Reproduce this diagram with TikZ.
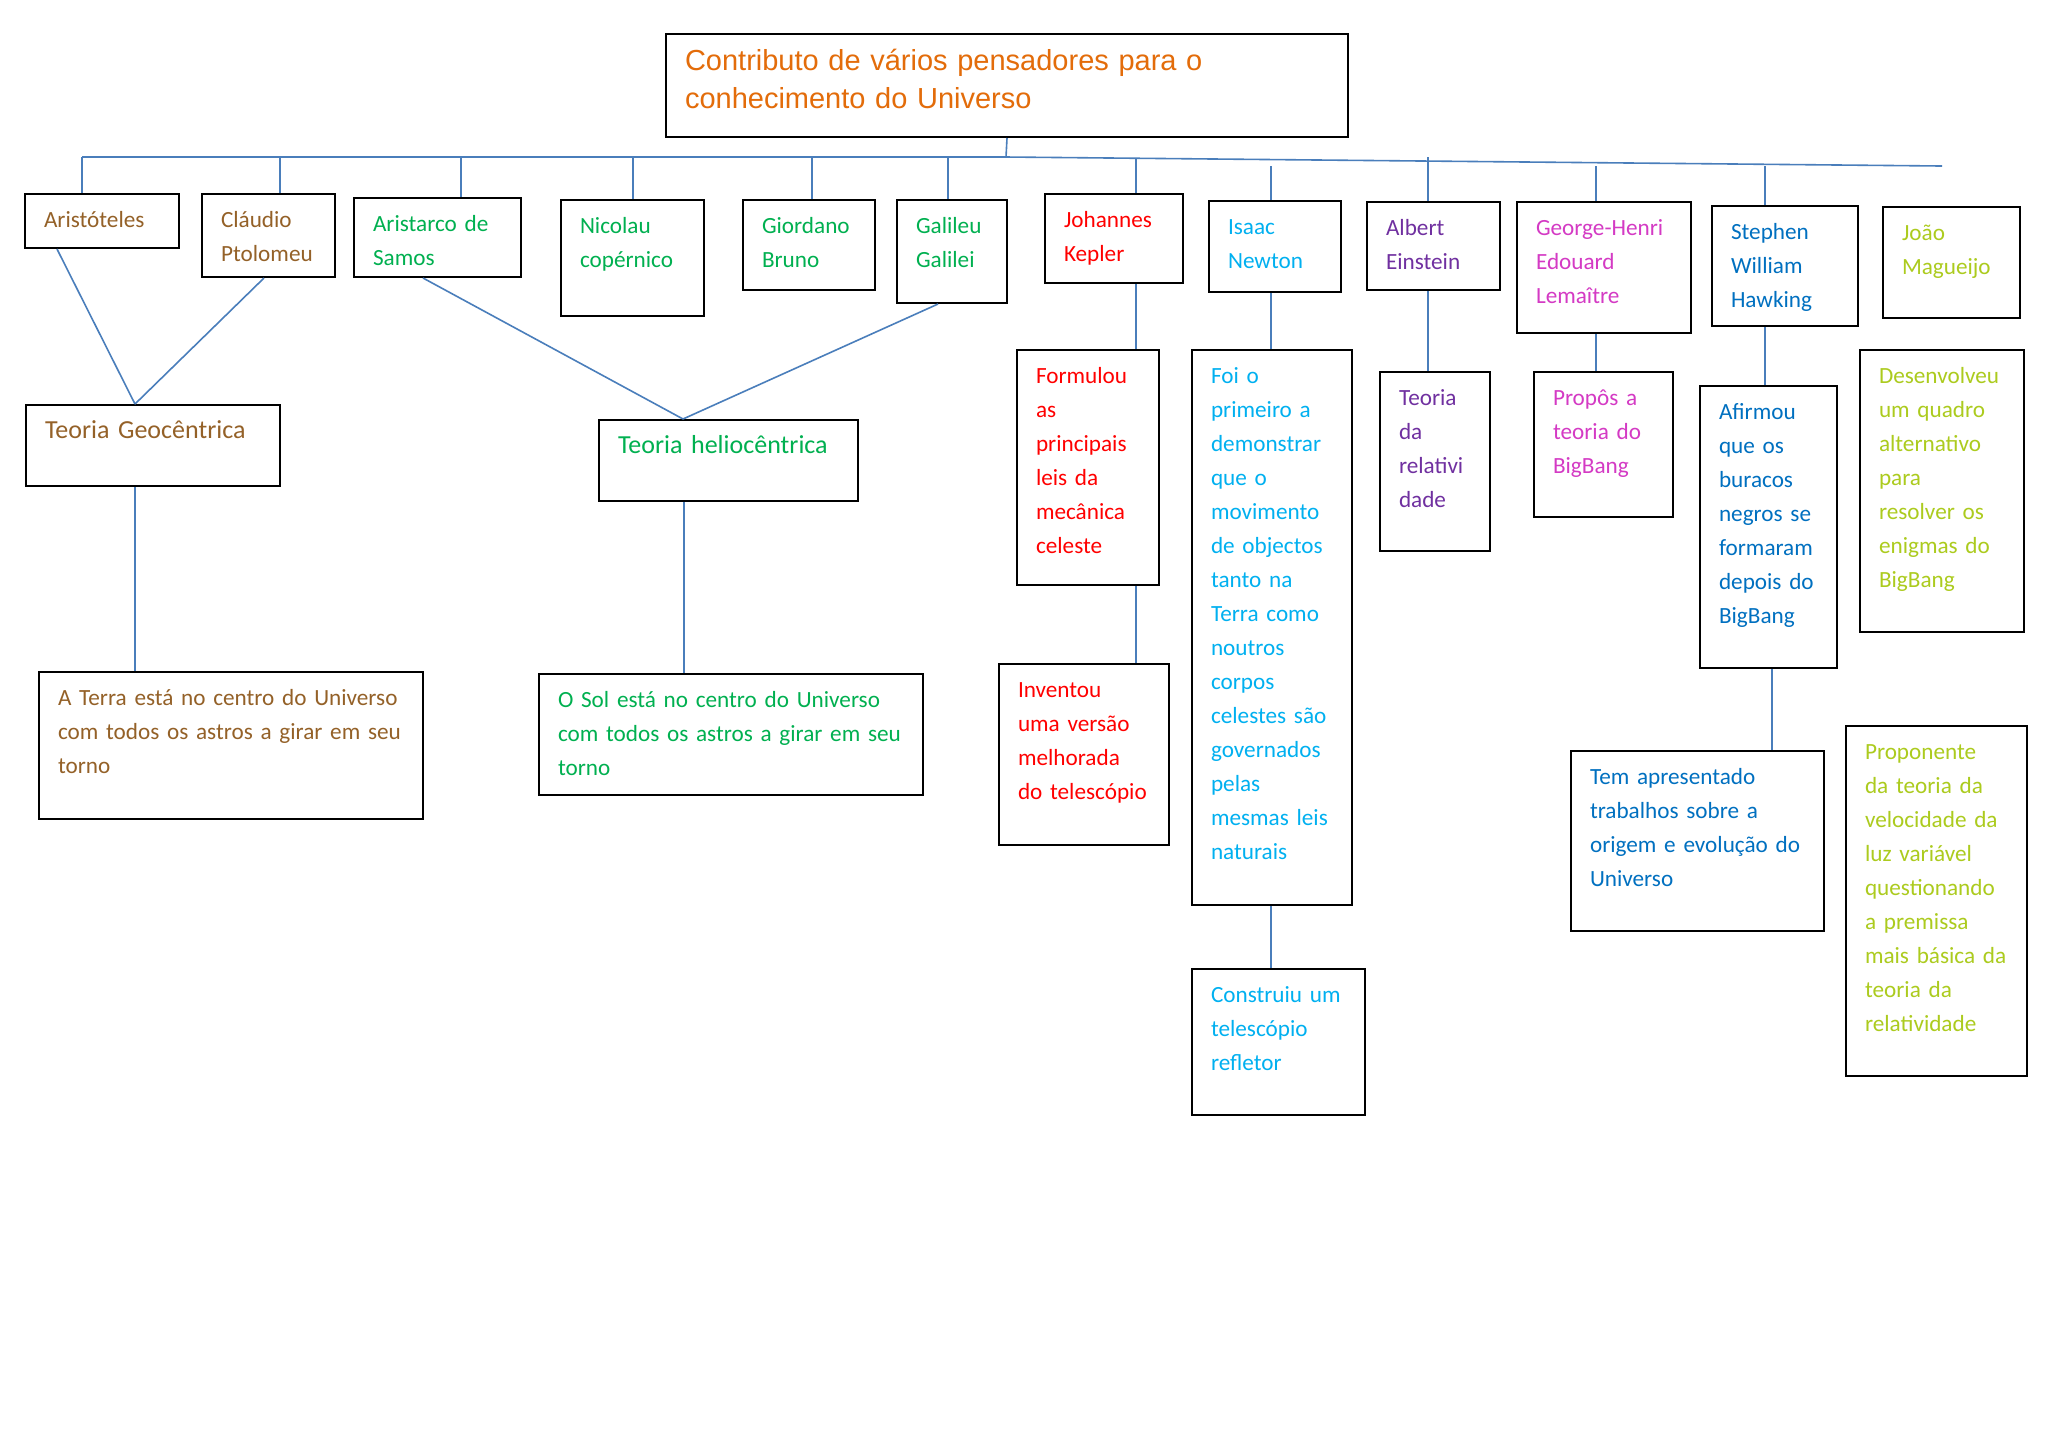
\documentclass[tikz,border=0pt]{standalone}
\usepackage{fontspec}
\setmainfont{Carlito}
\newfontfamily\titulofont{Liberation Sans}
\usetikzlibrary{positioning}
\definecolor{laranja}{HTML}{E36C0A}
\definecolor{castanho}{HTML}{946128}
\definecolor{verde}{HTML}{00B050}
\definecolor{vermelho}{HTML}{FF0000}
\definecolor{ciano}{HTML}{00B0F0}
\definecolor{roxo}{HTML}{7030A0}
\definecolor{magenta}{HTML}{D43AC4}
\definecolor{azul}{HTML}{0070C0}
\definecolor{lima}{HTML}{ACCB1E}
\definecolor{linhaazul}{HTML}{4A7EBB}
\hyphenpenalty=10000
\exhyphenpenalty=10000

\begin{document}
\begin{tikzpicture}[x=0.5pt, y=-0.5pt,
  caixa/.style={draw=black, line width=1pt, anchor=north west, align=left, inner xsep=9.5pt, inner ysep=3pt, text height=13.5pt, font=\fontsize{11.6}{17}\selectfont,
    execute at begin node={\rightskip=0pt plus 1fil minus 100pt\relax}},
  tema/.style={caixa, font=\fontsize{13}{17}\selectfont},
  linha/.style={draw=linhaazul, line width=0.8pt}
]
  \fill[white] (0,0) rectangle (2048,1448);

  % titulo
  \node[caixa, text=laranja, text width=322pt, text height=14.3pt, inner ysep=4pt, text depth=29.2pt, font=\titulofont\fontsize{14.5}{19}\selectfont] (titulo) at (665,33) {Contributo de vários pensadores para o\\conhecimento do Universo};

  % pensadores
  \node[caixa, text=castanho, text width=58pt,   text depth=7.5pt]  (arist)     at (24,193)   {Aristóteles};
  \node[caixa, text=castanho, text width=47.5pt, text depth=22pt]   (claudio)   at (201,193)  {Cláudio\\Ptolomeu};
  \node[caixa, text=verde,    text width=64.5pt, text depth=20pt]   (aristarco) at (353,197)  {Aristarco de\\Samos};
  \node[caixa, text=verde,    text width=52.5pt, text depth=38.5pt] (nicolau)   at (560,199)  {Nicolau\\copérnico};
  \node[caixa, text=verde,    text width=47pt,   text depth=25.5pt] (giordano)  at (742,199)  {Giordano\\Bruno};
  \node[caixa, text=verde,    text width=36pt,   text depth=32pt]   (galileu)   at (896,199)  {Galileu\\Galilei};
  \node[caixa, text=vermelho, text width=50pt,   text depth=25pt]   (kepler)    at (1044,193) {Johannes\\Kepler};
  \node[caixa, text=ciano,    text width=47pt,   text depth=26pt]   (newton)    at (1208,200) {Isaac\\Newton};
  \node[caixa, text=roxo,     text width=47.5pt, text depth=24.5pt] (einstein)  at (1366,201) {Albert\\Einstein};
  \node[caixa, text=magenta,  text width=68pt,   text depth=46pt]   (lemaitre)  at (1516,201) {George-Henri\\Edouard\\Lemaître};
  \node[caixa, text=azul,     text width=54pt,   text depth=40.5pt] (hawking)   at (1711,205) {Stephen\\William\\Hawking};
  \node[caixa, text=lima,     text width=49.5pt, text depth=36pt]   (magueijo)  at (1882,206) {João\\Magueijo};

  % teorias e contributos
  \node[tema,  text=castanho, text width=108pt,   text depth=21pt]   (geo)    at (25,404)  {Teoria Geocêntrica};
  \node[caixa, text=castanho, text width=173pt,   text depth=54pt]   (aterra) at (38,671)  {A Terra está no centro do Universo\\com todos os astros a girar em seu\\torno};
  \node[tema,  text=verde,    text width=110.5pt, text depth=21pt]   (helio)  at (598,419) {Teoria heliocêntrica};
  \node[caixa, text=verde,    text width=173pt,   text depth=41pt]   (osol)   at (538,673) {O Sol está no centro do Universo\\com todos os astros a girar em seu\\torno};
  \node[caixa, text=vermelho, text width=52pt,    text depth=98pt]   (formulou) at (1016,349) {Formulou\\as\\principais\\leis da\\mecânica\\celeste};
  \node[caixa, text=vermelho, text width=66pt,    text depth=71pt]   (inventou) at (998,663)  {Inventou\\uma versão\\melhorada\\do telescópio};
  \node[caixa, text=ciano,    text width=61pt,    text depth=258pt]  (foio)     at (1191,349) {Foi o\\primeiro a\\demonstrar\\que o\\movimento\\de objectos\\tanto na\\Terra como\\noutros\\corpos\\celestes são\\governados\\pelas\\mesmas leis\\naturais};
  \node[caixa, text=ciano,    text width=67.5pt,  text depth=53.5pt] (construiu) at (1191,968) {Construiu um\\telescópio\\refletor};
  \node[caixa, text=roxo,     text width=36pt,    text depth=70pt]   (relat)   at (1379,371) {Teoria\\da\\relativi\\dade};
  \node[caixa, text=magenta,  text width=50.5pt,  text depth=53pt]   (propos)  at (1533,371) {Propôs a\\teoria do\\BigBang};
  \node[caixa, text=azul,     text width=49.5pt,  text depth=121.5pt] (afirmou) at (1699,385) {Afirmou\\que os\\buracos\\negros se\\formaram\\depois do\\BigBang};
  \node[caixa, text=azul,     text width=107.5pt, text depth=70.5pt] (tem)     at (1570,750) {Tem apresentado\\trabalhos sobre a\\origem e evolução do\\Universo};
  \node[caixa, text=lima,     text width=63pt,    text depth=121.5pt] (desenv) at (1859,349) {Desenvolveu\\um quadro\\alternativo\\para\\resolver os\\enigmas do\\BigBang};
  \node[caixa, text=lima,     text width=71.5pt,  text depth=155.5pt] (proponente) at (1845,725) {Proponente\\da teoria da\\velocidade da\\luz variável\\questionando\\a premissa\\mais básica da\\teoria da\\relatividade};

  % linha principal
  \coordinate (bus0) at (82,157);
  \coordinate (busM) at (1006,157);
  \coordinate (busF) at (1942,166);
  \draw[linha] (titulo.south) -- (busM);
  \draw[linha] (bus0) -- (busM) -- (busF);
  \foreach \x/\y/\n in {82/157/arist, 280/157/claudio, 461/157/aristarco, 633/157/nicolau, 812/157/giordano, 948/157/galileu, 1136/158/kepler, 1271/166/newton, 1428/157/einstein, 1596/166/lemaitre, 1765/166/hawking} {
    \coordinate (topo-\n) at (\x,\y);
    \draw[linha] (topo-\n) -- (topo-\n |- \n.north);
  }

  % ligacoes
  \draw[linha] (arist.south -| 57,0) -- (geo.north -| 135,0);
  \draw[linha] (claudio.south -| 264,0) -- (geo.north -| 135,0);
  \draw[linha] (geo.south -| 135,0) -- (aterra.north -| 135,0);
  \draw[linha] (aristarco.south -| 423,0) -- (helio.north -| 683,0);
  \draw[linha] (galileu.south -| 938,0) -- (helio.north -| 683,0);
  \draw[linha] (helio.south -| 684,0) -- (osol.north -| 684,0);
  \draw[linha] (kepler.south -| 1136,0) -- (formulou.north -| 1136,0);
  \draw[linha] (formulou.south -| 1136,0) -- (inventou.north -| 1136,0);
  \draw[linha] (newton.south -| 1271,0) -- (foio.north -| 1271,0);
  \draw[linha] (foio.south -| 1271,0) -- (construiu.north -| 1271,0);
  \draw[linha] (einstein.south -| 1428,0) -- (relat.north -| 1428,0);
  \draw[linha] (lemaitre.south -| 1596,0) -- (propos.north -| 1596,0);
  \draw[linha] (hawking.south -| 1765,0) -- (afirmou.north -| 1765,0);
  \draw[linha] (afirmou.south -| 1772,0) -- (tem.north -| 1772,0);
\end{tikzpicture}
\end{document}
